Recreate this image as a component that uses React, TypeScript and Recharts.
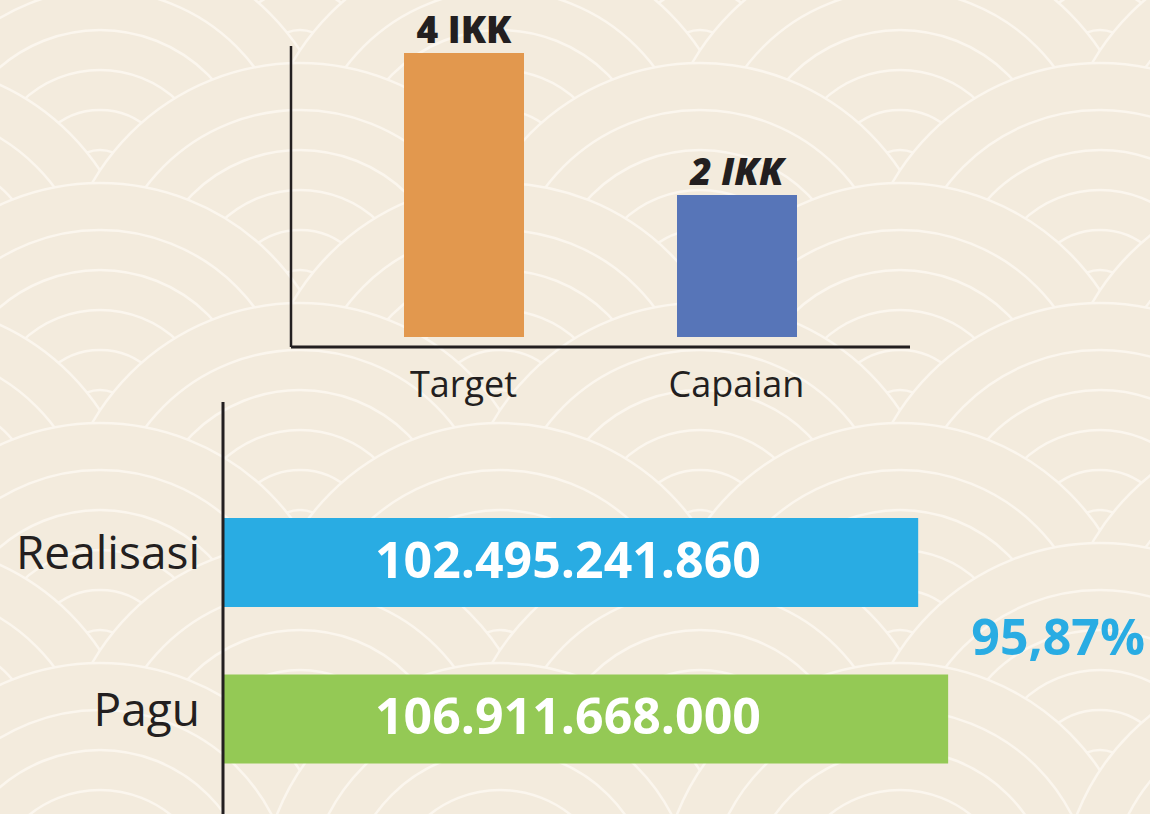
import { Bar, BarChart, Cell, LabelList, XAxis, YAxis } from "recharts";

const BG = "#f3ebdd";
const ARC = "#fbf6ee";
const INK = "#231f20";
const FONT = "'Open Sans', sans-serif";

// top chart: indikator kinerja
const ikkCategories = ["Target", "Capaian"];
const ikkValues = [4, 2];
const ikkColors = ["#e2984e", "#5775b8"];

// bottom chart: anggaran (Rp)
const budgetCategories = ["Realisasi", "Pagu"];
const budgetValues = [102495241860, 106911668000];
const budgetColors = ["#29ace3", "#94c955"];

const ikkData = ikkCategories.map((name, i) => ({ name, value: ikkValues[i] }));
const budgetData = budgetCategories.map((name, i) => ({ name, value: budgetValues[i] }));

const fmtRupiah = (v: number) => v.toLocaleString("de-DE");
const percent =
  ((budgetValues[0] / budgetValues[1]) * 100).toFixed(2).replace(".", ",") + "%";

function Background() {
  const radii = [240, 193, 153, 113, 73, 33];
  const groups: { cx: number; cy: number }[] = [];
  for (let k = -1; k <= 7; k++) {
    const cy = 63 + 120 * k;
    const off = k % 2 === 0 ? 300 : 100;
    for (let i = -1; i <= 3; i++) groups.push({ cx: off + 400 * i, cy });
  }
  return (
    <svg width={1150} height={814} style={{ position: "absolute", left: 0, top: 0 }}>
      <rect width={1150} height={814} fill={BG} />
      {groups.map((g, gi) => (
        <g key={gi}>
          {radii.map((r) => (
            <circle key={r} cx={g.cx} cy={g.cy} r={r} fill={BG} stroke={ARC} strokeWidth={2.5} />
          ))}
        </g>
      ))}
    </svg>
  );
}

const IkkTick = (props: any) => {
  const { x, y, payload } = props;
  return (
    <text x={x} y={y} dy="0.71em" textAnchor="middle" fill={INK} fontSize={36} fontFamily={FONT}>
      {payload.value}
    </text>
  );
};

const IkkLabel = (props: any) => {
  const { x, y, width, value, index } = props;
  return (
    <text
      x={x + width / 2}
      y={y - 10}
      textAnchor="middle"
      fill={INK}
      fontSize={37}
      fontWeight={800}
      fontStyle={index === 1 ? "italic" : "normal"}
      fontFamily={FONT}
    >
      {`${value} IKK`}
    </text>
  );
};

const BudgetTick = (props: any) => {
  const { x, y, payload } = props;
  return (
    <text x={x} y={y} dy={7} textAnchor="end" fill={INK} fontSize={46} fontFamily={FONT}>
      {payload.value}
    </text>
  );
};

const BudgetLabel = (props: any) => {
  const { x, y, height, value } = props;
  return (
    <text
      x={x + 152}
      y={y + height / 2 - 3}
      dy="0.36em"
      fill="#ffffff"
      fontSize={50}
      fontWeight={700}
      fontFamily={FONT}
    >
      {fmtRupiah(Number(value))}
    </text>
  );
};

export default function App() {
  return (
    <div
      style={{
        position: "absolute",
        left: 0,
        top: 0,
        width: 1150,
        height: 814,
        overflow: "hidden",
        fontFamily: FONT,
      }}
    >
      <Background />

      <div style={{ position: "absolute", left: 0, top: 0 }}>
        <BarChart
          width={1150}
          height={420}
          data={ikkData}
          margin={{ top: 46, left: 290, right: 240, bottom: 0 }}
        >
          <XAxis
            dataKey="name"
            height={73}
            padding={{ left: 36, right: 37 }}
            axisLine={{ stroke: INK, strokeWidth: 3 }}
            tickLine={false}
            tickSize={0}
            tickMargin={24}
            tick={<IkkTick />}
          />
          <YAxis
            width={1}
            domain={[-0.141, 4.1]}
            allowDataOverflow
            tick={false}
            tickLine={false}
            axisLine={{ stroke: INK, strokeWidth: 2.5 }}
          />
          <Bar dataKey="value" barSize={120} isAnimationActive={false}>
            {ikkData.map((d, i) => (
              <Cell key={d.name} fill={ikkColors[i]} />
            ))}
            <LabelList dataKey="value" content={<IkkLabel />} />
          </Bar>
        </BarChart>
      </div>

      <div style={{ position: "absolute", left: 0, top: 380 }}>
        <BarChart
          width={1150}
          height={434}
          layout="vertical"
          data={budgetData}
          margin={{ top: 22, left: 222, right: 147, bottom: 0 }}
        >
          <XAxis type="number" hide domain={[0, 115000000000]} />
          <YAxis
            type="category"
            dataKey="name"
            width={1}
            padding={{ top: 82, bottom: 17 }}
            axisLine={{ stroke: INK, strokeWidth: 3 }}
            tickLine={false}
            tickSize={0}
            tickMargin={23}
            tick={<BudgetTick />}
          />
          <Bar dataKey="value" barSize={89} isAnimationActive={false}>
            {budgetData.map((d, i) => (
              <Cell key={d.name} fill={budgetColors[i]} />
            ))}
            <LabelList dataKey="value" content={<BudgetLabel />} />
          </Bar>
        </BarChart>
      </div>

      <svg width={1150} height={814} style={{ position: "absolute", left: 0, top: 0, pointerEvents: "none" }}>
        <text
          x={1145}
          y={655}
          textAnchor="end"
          fill="#29ace3"
          fontSize={50}
          fontWeight={700}
          fontFamily={FONT}
        >
          {percent}
        </text>
      </svg>
    </div>
  );
}
